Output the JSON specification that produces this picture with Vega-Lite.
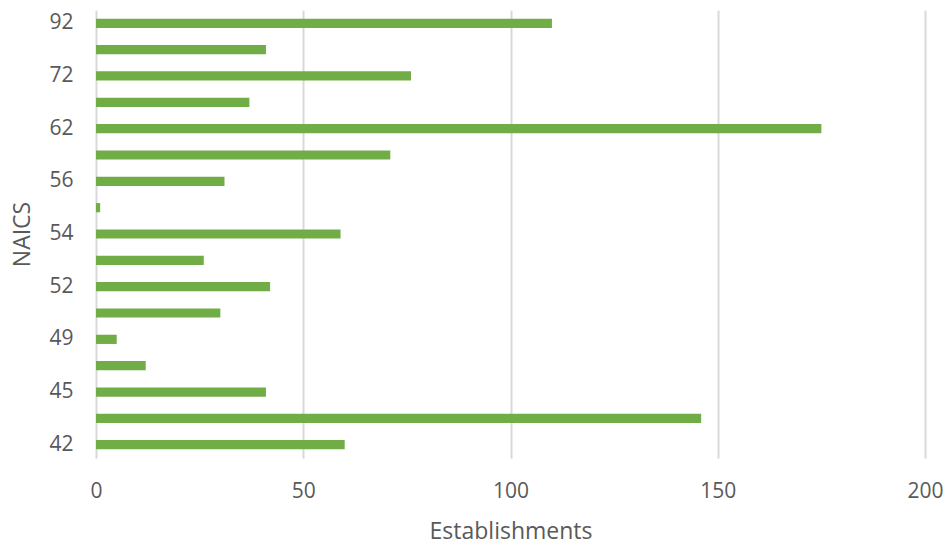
{
  "$schema": "https://vega.github.io/schema/vega-lite/v6.json",
  "width": 829,
  "height": 448,
  "autosize": {"type": "none"},
  "padding": {"left": 96, "top": 10, "right": 25, "bottom": 87},
  "background": "white",
  "config": {"view": {"stroke": null}, "font": "Open Sans"},
  "data": {"values": [
    {"naics": "42", "establishments": 60},
    {"naics": "44", "establishments": 146},
    {"naics": "45", "establishments": 41},
    {"naics": "48", "establishments": 12},
    {"naics": "49", "establishments": 5},
    {"naics": "51", "establishments": 30},
    {"naics": "52", "establishments": 42},
    {"naics": "53", "establishments": 26},
    {"naics": "54", "establishments": 59},
    {"naics": "55", "establishments": 1},
    {"naics": "56", "establishments": 31},
    {"naics": "61", "establishments": 71},
    {"naics": "62", "establishments": 175},
    {"naics": "71", "establishments": 37},
    {"naics": "72", "establishments": 76},
    {"naics": "81", "establishments": 41},
    {"naics": "92", "establishments": 110}
  ]},
  "mark": {"type": "bar", "color": "#70ad47"},
  "encoding": {
    "y": {
      "field": "naics", "type": "nominal", "sort": "descending",
      "scale": {"paddingInner": 0.65, "paddingOuter": 0.33},
      "axis": {
        "title": "NAICS", "titleFontSize": 23, "titleFontWeight": "normal", "titleColor": "#595959",
        "titlePadding": 14,
        "labelFontSize": 21, "labelColor": "#595959", "labelPadding": 23,
        "ticks": false, "domain": false, "grid": false,
        "labelExpr": "test(/^(44|48|51|53|55|61|71|81)$/, datum.value) ? '' : datum.value"
      }
    },
    "x": {
      "field": "establishments", "type": "quantitative",
      "scale": {"domain": [0, 200], "nice": false},
      "axis": {
        "title": "Establishments", "titleFontSize": 23, "titleFontWeight": "normal", "titleColor": "#595959",
        "titlePadding": 19,
        "values": [0, 50, 100, 150, 200],
        "labelFontSize": 21, "labelColor": "#595959", "labelPadding": 22,
        "labelFlush": false,
        "ticks": false, "domain": false,
        "grid": true, "gridColor": "#d9d9d9", "gridWidth": 2
      }
    }
  }
}
